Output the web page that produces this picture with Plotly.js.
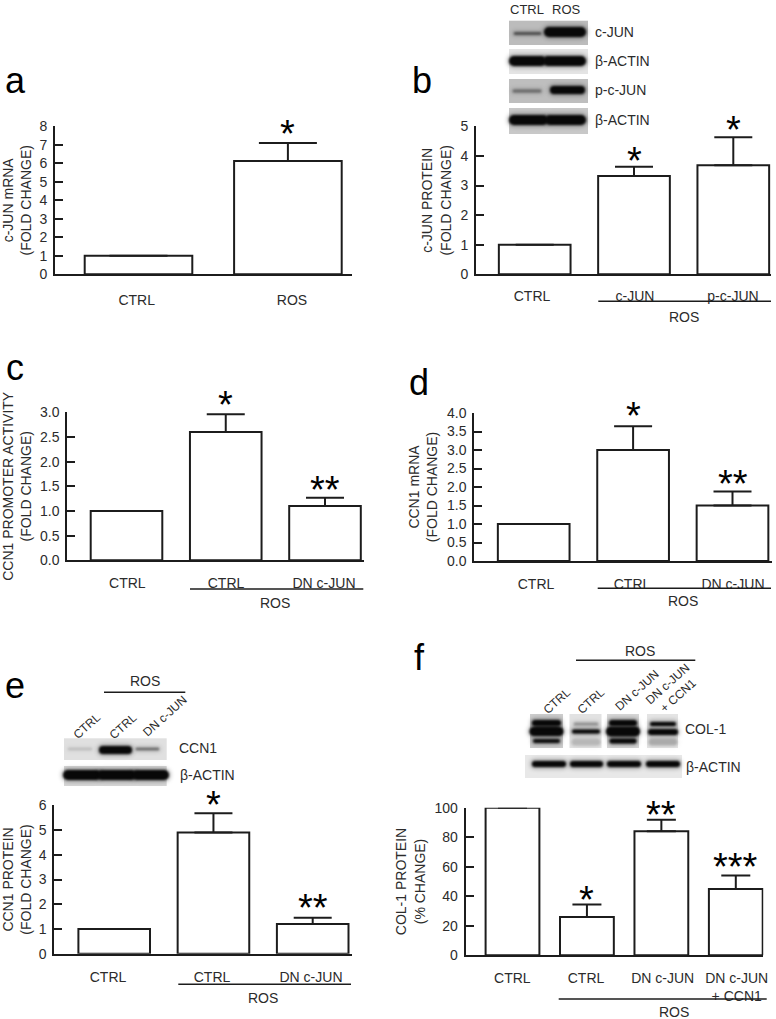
<!DOCTYPE html>
<html><head><meta charset="utf-8">
<script src="https://cdn.plot.ly/plotly-3.0.1.min.js"></script>
<style>html,body{margin:0;padding:0;background:#fff}#chart{width:776px;height:1019px}</style>
</head><body><div id="chart"></div>
<script>
// ---- data ----
const labelsA = ['CTRL','ROS'];
const valuesA = [1, 6.12];
const errorsA = [0, 0.98];
const starsA  = ['', '*'];

const labelsB = ['CTRL','c-JUN','p-c-JUN'];
const valuesB = [1, 3.32, 3.68];
const errorsB = [0, 0.31, 0.95];
const starsB  = ['', '*', '*'];

const labelsC = ['CTRL','CTRL','DN c-JUN'];
const valuesC = [1, 2.6, 1.1];
const errorsC = [0, 0.36, 0.17];
const starsC  = ['', '*', '**'];

const labelsD = ['CTRL','CTRL','DN c-JUN'];
const valuesD = [1, 3.0, 1.5];
const errorsD = [0, 0.64, 0.38];
const starsD  = ['', '*', '**'];

const labelsE = ['CTRL','CTRL','DN c-JUN'];
const valuesE = [1, 4.9, 1.2];
const errorsE = [0, 0.78, 0.25];
const starsE  = ['', '*', '**'];

const labelsF = ['CTRL','CTRL','DN c-JUN','DN c-JUN<br>+ CCN1'];
const valuesF = [100, 26, 84, 45];
const errorsF = [0, 8.5, 7.8, 9];
const starsF  = ['', '*', '**', '***'];

const ticksA = [0,1,2,3,4,5,6,7,8];
const ticksB = [0,1,2,3,4,5];
const ticksC = [0,0.5,1,1.5,2,2.5,3];
const ticksD = [0,0.5,1,1.5,2,2.5,3,3.5,4];
const ticksE = [0,1,2,3,4,5,6];
const ticksF = [0,20,40,60,80,100];

// ---- layout of each panel, in page pixels ----
const W = 776, H = 1019, INK = '#1c1c1c', TXT = '#2b2b2b', FONT = '"Liberation Sans", Arial, sans-serif';
const panels = [
 {labels:labelsA,values:valuesA,errors:errorsA,stars:starsA,ticks:ticksA,fmt:'d',title:'c-JUN mRNA<br>(FOLD CHANGE)',
  l:55,r:352,t:126.3,b:274.3,c:[138.5,287.9],w:107.6,cap:29,lab:[136.7,292],lab0:12,gap:[0,17],standoff:6},
 {labels:labelsB,values:valuesB,errors:errorsB,stars:starsB,ticks:ticksB,fmt:'d',title:'c-JUN PROTEIN<br>(FOLD CHANGE)',
  l:476,r:771,t:126.3,b:274.3,c:[534.7,633.7,733.3],w:71.7,cap:19,lab:[532,635,733],lab0:8,gap:[0,14,15],standoff:6},
 {labels:labelsC,values:valuesC,errors:errorsC,stars:starsC,ticks:ticksC,fmt:'.1f',title:'CCN1 PROMOTER ACTIVITY<br>(FOLD CHANGE)',
  l:67.3,r:364.3,t:412.3,b:560.3,c:[126.5,225.6,325],w:71.6,cap:19,lab:[127.3,226,324],lab0:9,gap:[0,17.5,16],standoff:6},
 {labels:labelsD,values:valuesD,errors:errorsD,stars:starsD,ticks:ticksD,fmt:'.1f',title:'CCN1 mRNA<br>(FOLD CHANGE)',
  l:474.3,r:772.3,t:413,b:561,c:[533.7,633.2,732.5],w:71.7,cap:19,lab:[536,632,733],lab0:9,gap:[0,18.5,15.7],standoff:6},
 {labels:labelsE,values:valuesE,errors:errorsE,stars:starsE,ticks:ticksE,fmt:'d',title:'CCN1 PROTEIN<br>(FOLD CHANGE)',
  l:54.3,r:351.7,t:805.3,b:953.7,c:[114.2,213.2,312.7],w:71.6,cap:19,lab:[108,212,311],lab0:9,gap:[0,16.5,17.8],standoff:6},
 {labels:labelsF,values:valuesF,errors:errorsF,stars:starsF,ticks:ticksF,fmt:'d',title:'COL-1 PROTEIN<br>(% CHANGE)',
  l:465.7,r:763.3,t:807.7,b:955.3,c:[512.5,586.7,661.3,735.8],w:53.8,cap:14.5,lab:[512.3,586,662.7,736.7],lab0:9,gap:[0,12.7,13,16.3],standoff:6}
];

const panelLetters = [['a',3,81],['b',410,81],['c',4,367],['d',407,383],['e',3,685],['f',412,657]];

// [text, centre x, centre y]
const plainLabels = [
 ['CTRL',527.3,9.5,13],['ROS',566,9.5,13],
 ['ROS',684,317,14],['ROS',275.3,603.3,14],['ROS',683.3,601,14],['ROS',263.3,998.3,14],['ROS',674,1011.7,14],
 ['ROS',144.7,680.7,14],['ROS',640,650.7,14]
];
// [text, left x, centre y]
const sideLabels = [
 ['c-JUN',593,32],['β-ACTIN',593,61],['p-c-JUN',593,90],['β-ACTIN',593,120],
 ['CCN1',176.7,748.3],['β-ACTIN',178.3,775.3],
 ['COL-1',683,729],['β-ACTIN',684,766.7]
];
// [text, centre x, centre y]
const slantedLabels = [
 ['CTRL',86.7,725.7],['CTRL',123.3,725.7],['DN c-JUN',165,716],
 ['CTRL',556.7,700.7],['CTRL',590.7,700.7],['DN c-JUN',637.3,690],['DN c-JUN<br>+ CCN1',673,690]
];
// group rules: [x0, x1, y]
const rules = [[598.3,771,301.3],[190,363.3,589],[597.7,771,588.3],[178.3,351,984.3],[558.7,766.7,999],[104,185.3,692.3],[576,695.3,660.3]];

// western blots: backgrounds [x0,y0,x1,y1,grey], bands [x0,x1,y,thickness,darkness]
const blotBacks = [
 [509,20.7,588,45,188],[509,49,588,74,228],[509,79,588,103,190],[509,108,588,134,200],
 [64,738.3,166.7,760,224],[64,766,166.7,786,214],
 [530,714,563,748,205],[569.5,714,601.5,748,226],[607,714,639,748,215],[647,714,678,748,228],
 [525,755,682,778,232]
];
const blotBands = [
 [515,540,33.5,2.5,.6],[549,581,32,10,1],
 [514,541,61,10,1],[548,581,61,10,1],
 [514,540,91,3,.4],[554,581,90,8,1],
 [514,543,120,10,1],[550,581,120,10,1],
 [69,91,749,2,.15],[103,128,750,8,1],[137,158,749,2.5,.5],
 [68,96,775,10,1],[102,131,775,10,1],[137,164,775,10,1],
 [535,558,723,6,1],[534,559,731.5,9,1],[535,558,741,4,.95],[535,558,727.5,1.5,.9],
 [575,597,724,3,.3],[574,598,731.5,4,1],[575,597,742,7,.15],
 [612,634,723,6,1],[611,635,731.5,10,1],[612,634,741,5,1],
 [652,674,724,4,1],[651,675,732,6,1],[652,674,742,7,.2],
 [535,563,764,6,1],[573,600,764,6,1],[610,638,764,6,1],[649,677,764,6,1]
];

function blotImage(){
  const cv = document.createElement('canvas'); cv.width = W; cv.height = H;
  const g = cv.getContext('2d');
  g.filter = 'blur(0.7px)';
  blotBacks.forEach(b => { g.fillStyle = `rgb(${b[4]},${b[4]},${b[4]})`; g.fillRect(b[0],b[1],b[2]-b[0],b[3]-b[1]); });
  g.lineCap = 'round';
  g.filter = 'blur(2px)';
  blotBands.forEach(b => { g.strokeStyle = `rgba(0,0,0,${b[4]*0.35})`; g.lineWidth = b[3]+3; g.beginPath(); g.moveTo(b[0],b[2]); g.lineTo(b[1],b[2]); g.stroke(); });
  g.filter = 'blur(0.9px)';
  blotBands.forEach(b => { g.strokeStyle = `rgba(8,8,8,${b[4]})`; g.lineWidth = b[3]; g.beginPath(); g.moveTo(b[0],b[2]); g.lineTo(b[1],b[2]); g.stroke(); });
  return cv.toDataURL('image/png');
}

const px = x => x / W, py = y => 1 - y / H;
const data = [], annotations = [], shapes = [];
const layout = {width:W,height:H,margin:{l:0,r:0,t:0,b:0},paper_bgcolor:'#fff',plot_bgcolor:'rgba(0,0,0,0)',
  showlegend:false,hovermode:false,font:{family:FONT,size:14,color:TXT},
  images:[{source:blotImage(),xref:'paper',yref:'paper',x:0,y:1,sizex:1,sizey:1,xanchor:'left',yanchor:'top',sizing:'stretch',layer:'below'}]};

panels.forEach((p,i) => {
  const n = i ? String(i+1) : '';
  const step = (p.c[p.c.length-1]-p.c[0])/(p.c.length-1);
  const toX = v => (v-p.c[0])/step;
  const idx = p.values.map((_,k)=>k);
  const ymax = p.ticks[p.ticks.length-1];
  data.push({type:'bar',x:idx,y:p.values,xaxis:'x'+n,yaxis:'y'+n,width:p.w/step,cliponaxis:false,
    marker:{color:'#fff',line:{color:INK,width:2}},
    error_y:{type:'data',symmetric:false,array:p.errors,arrayminus:p.errors.map(()=>0),color:INK,thickness:2,width:p.cap}});
  layout['xaxis'+n] = {domain:[px(p.l),px(p.r)],range:[toX(p.l),toX(p.r)],anchor:'y'+n,showgrid:false,zeroline:false,
    showline:true,linecolor:INK,linewidth:2,ticks:'outside',ticklen:p.lab0,tickwidth:1,tickcolor:'rgba(0,0,0,0)',
    tickmode:'array',tickvals:p.lab.map(toX),ticktext:p.labels,tickangle:0,tickfont:{family:FONT,size:14,color:TXT},fixedrange:true};
  layout['yaxis'+n] = {domain:[py(p.b),py(p.t)],range:[0,ymax],anchor:'x'+n,showgrid:false,zeroline:false,
    showline:true,linecolor:INK,linewidth:2,ticks:'inside',ticklen:8,tickwidth:2,tickcolor:INK,
    tickmode:'array',tickvals:p.ticks,tickformat:p.fmt,ticklabelstandoff:3,tickfont:{family:FONT,size:14,color:TXT},
    title:{text:p.title,font:{family:FONT,size:14,color:TXT},standoff:p.standoff},fixedrange:true};
  p.stars.forEach((s,k) => { if(!s) return;
    annotations.push({xref:'x'+n,yref:'y'+n,x:k,y:p.values[k]+p.errors[k],text:s,showarrow:false,
      xanchor:'center',yanchor:'middle',yshift:p.gap[k]-8,font:{family:FONT,size:38,color:'#000'}});
  });
});

panelLetters.forEach(a => annotations.push({xref:'paper',yref:'paper',x:px(a[1]),y:py(a[2]),text:a[0],showarrow:false,
  xanchor:'left',yanchor:'middle',font:{family:FONT,size:36,color:'#000'}}));
plainLabels.forEach(a => annotations.push({xref:'paper',yref:'paper',x:px(a[1]),y:py(a[2]),text:a[0],showarrow:false,
  xanchor:'center',yanchor:'middle',font:{family:FONT,size:a[3],color:TXT}}));
sideLabels.forEach(a => annotations.push({xref:'paper',yref:'paper',x:px(a[1]),y:py(a[2]),text:a[0],showarrow:false,
  xanchor:'left',yanchor:'middle',font:{family:FONT,size:14,color:TXT}}));
slantedLabels.forEach(a => annotations.push({xref:'paper',yref:'paper',x:px(a[1]),y:py(a[2]),text:a[0],showarrow:false,
  xanchor:'center',yanchor:'middle',textangle:-42,font:{family:FONT,size:12,color:TXT}}));
rules.forEach(r => shapes.push({type:'line',xref:'paper',yref:'paper',x0:px(r[0]),x1:px(r[1]),y0:py(r[2]),y1:py(r[2]),line:{color:INK,width:1.5}}));
layout.annotations = annotations; layout.shapes = shapes;

Plotly.newPlot('chart',data,layout,{displayModeBar:false,staticPlot:true});
</script></body></html>
